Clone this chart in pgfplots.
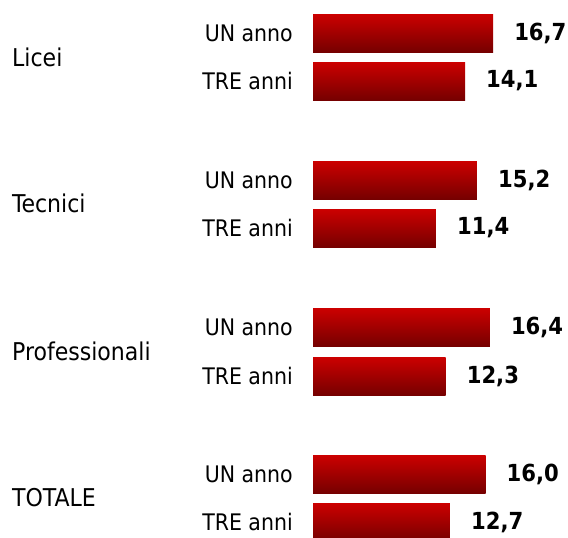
\documentclass[border=0pt]{standalone}
\usepackage{pgfplots}
\pgfplotsset{compat=1.18}
\usepackage{fontspec}
\setmainfont{DejaVu Sans Condensed}
\definecolor{bartop}{RGB}{204,0,0}
\definecolor{barbot}{RGB}{118,0,0}
\begin{document}
\fontsize{22.5}{27}\selectfont
\begin{tikzpicture}[x=1pt,y=1pt]
\useasboundingbox (0,0) rectangle (568,538);
\begin{axis}[
  at={(313pt,0pt)}, anchor=south west,
  scale only axis, width=255pt, height=538pt,
  xmin=0, xmax=23.65,
  ymin=0, ymax=538, y dir=reverse,
  xbar, bar width=38pt, bar shift=0pt,
  axis line style={draw=none},
  tick style={draw=none},
  xtick=\empty,
  ytick={33,81,180,228,327,376,474,522},
  yticklabels={UN anno,TRE anni,UN anno,TRE anni,UN anno,TRE anni,UN anno,TRE anni},
  yticklabel style={anchor=east, inner sep=0pt, xshift=-20pt, font=\fontsize{22.8}{27}\selectfont},
  major tick length=0pt,
  clip=false,
  nodes near coords,
  nodes near coords align={horizontal},
  every node near coord/.append style={anchor=west, inner sep=0pt, xshift=21pt, font=\fontsize{23.5}{28}\selectfont\bfseries, text=black,
    /pgf/number format/.cd, fixed, fixed zerofill, precision=1, use comma, assume math mode=true},
  redbar/.style={draw=none, top color=bartop, bottom color=barbot},
]
\addplot[redbar] coordinates {(16.7,33)};
\addplot[redbar] coordinates {(14.1,81)};
\addplot[redbar] coordinates {(15.2,180)};
\addplot[redbar] coordinates {(11.4,228)};
\addplot[redbar] coordinates {(16.4,327)};
\addplot[redbar] coordinates {(12.3,376)};
\addplot[redbar] coordinates {(16.0,474)};
\addplot[redbar] coordinates {(12.7,522)};
\end{axis}
\begin{scope}[every node/.style={anchor=west, inner sep=0pt, font=\fontsize{24.5}{29}\selectfont}]
\node at (12,538-57) {Licei};
\node at (12,538-203) {Tecnici};
\node at (12,538-351) {Professionali};
\node at (12,538-498) {TOTALE};
\end{scope}
\end{tikzpicture}
\end{document}
